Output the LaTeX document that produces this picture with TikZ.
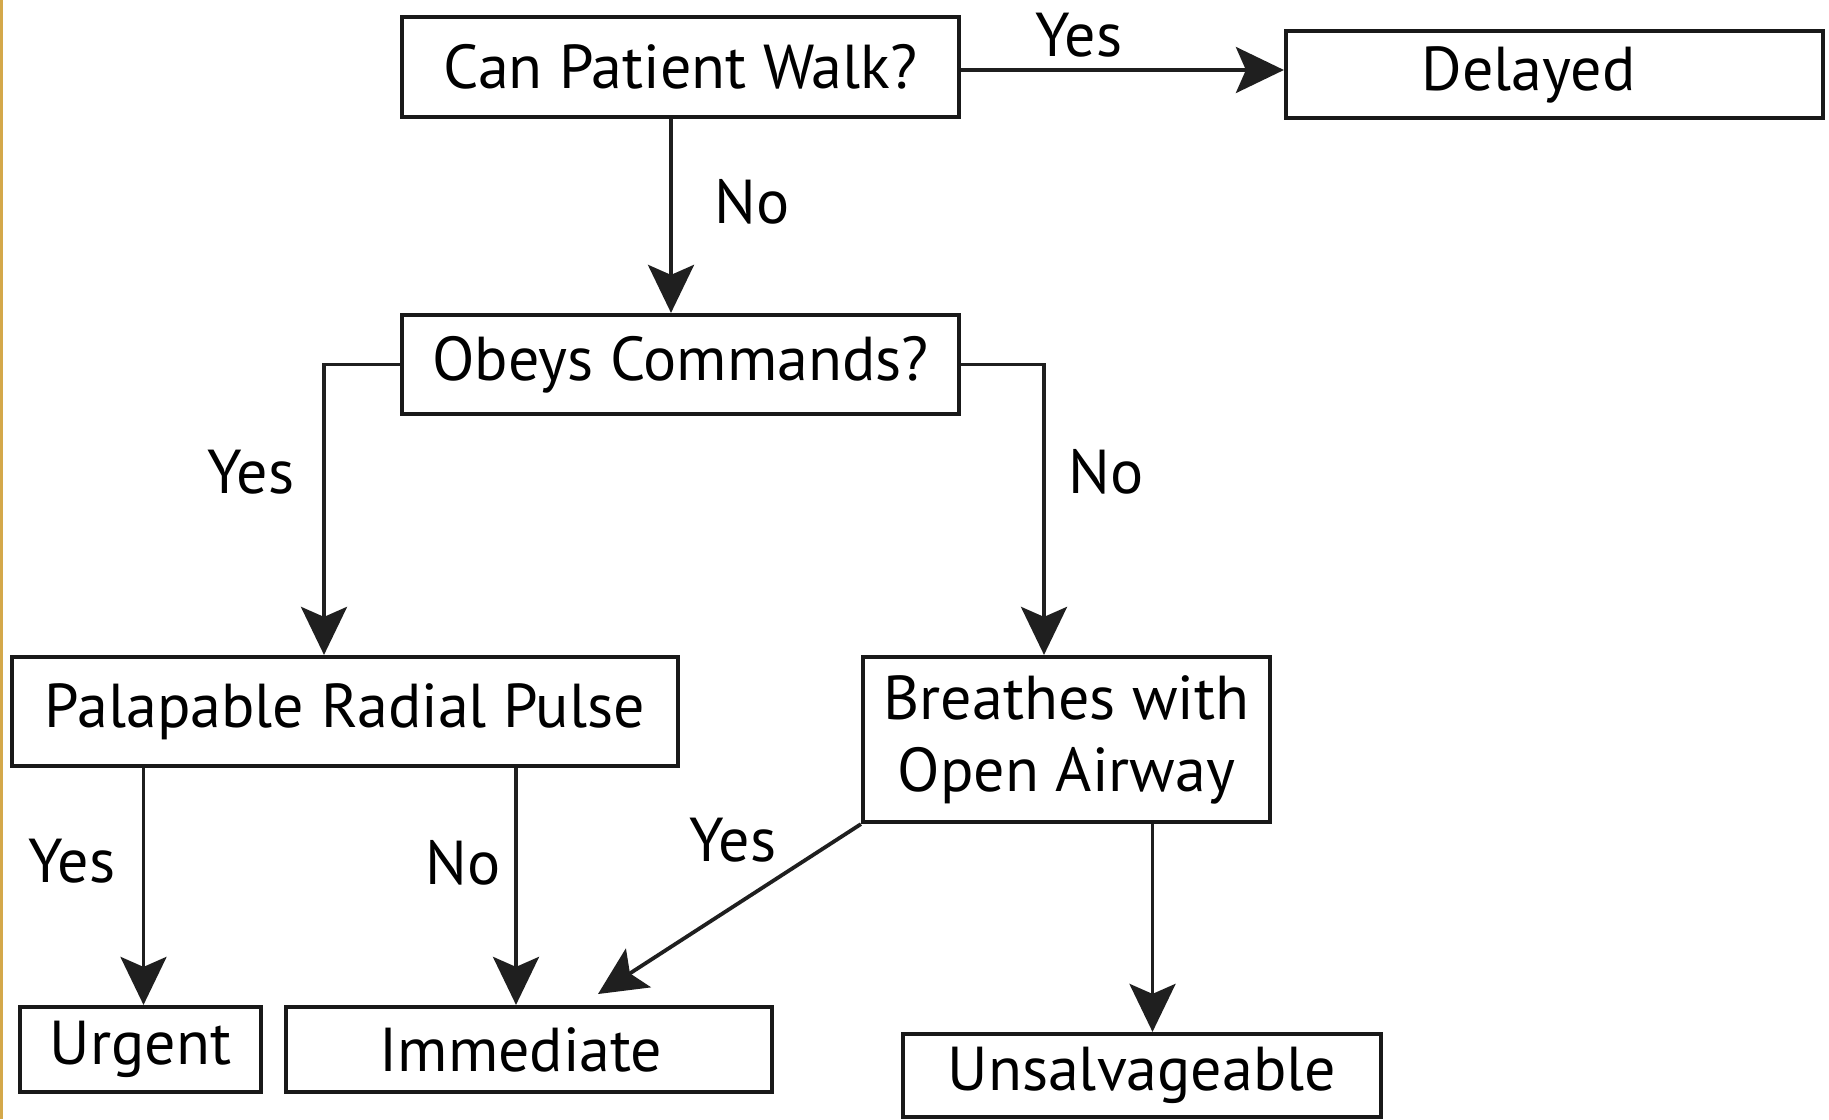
\documentclass[tikz,border=0pt]{standalone}
\usepackage{fontspec}
\setmainfont{PT Sans}
\usetikzlibrary{arrows.meta}
\begin{document}
\begin{tikzpicture}[x=0.5pt,y=-0.5pt,
  box/.style={draw=black!90,line width=2.1pt,rectangle,inner sep=0pt,align=center,
    font=\fontsize{31}{36}\selectfont},
  lbl/.style={font=\fontsize{31}{36}\selectfont,inner sep=0pt},
  conn/.style={draw=black!88,line width=1.9pt,-{Stealth[length=24pt,width=23pt,inset=5pt]}}]
\useasboundingbox (0,0) rectangle (1829,1119);
\fill[white] (0,0) rectangle (1829,1119);
\fill[color={rgb,255:red,212;green,168;blue,74}] (0,0) rectangle (2.5,1119);

\node[box,minimum width=278.5pt,minimum height=50pt] (walk) at (680.5,67) {Can Patient Walk?};
\node[box,minimum width=268.5pt,minimum height=43.5pt] (delayed) at (1554.5,74.5) {\hspace*{-26pt}\raisebox{-4pt}{Delayed}};
\node[box,minimum width=278.5pt,minimum height=49.5pt] (obeys) at (680.5,364.5) {Obeys Commands?};
\node[box,minimum width=333pt,minimum height=54.5pt] (pulse) at (345,711.5) {Palapable Radial Pulse};
\node[box,minimum width=203.5pt,minimum height=82.5pt] (breathes) at (1066.5,739.5) {Breathes with\\Open Airway};
\node[box,minimum width=120.5pt,minimum height=42.5pt] (urgent) at (140.5,1049.5) {Urgent};
\node[box,minimum width=243pt,minimum height=42.5pt] (immediate) at (529,1049.5) {\hspace*{-8pt}Immediate};
\node[box,minimum width=239pt,minimum height=41.5pt] (unsalv) at (1142,1075.5) {\raisebox{-3pt}{Unsalvageable}};

\coordinate (yd) at (959,70);
\draw[conn] (walk.east |- yd) -- (delayed.west |- yd);
\node[lbl] (lyes1) at (1079,35) {Yes};

\coordinate (wx) at (671,0);
\draw[conn] (wx |- walk.south) -- (wx |- obeys.north);
\node[lbl] (lno1) at (752,202) {No};

\coordinate (lc) at (324,364.5);
\draw[conn] (obeys.west) -- (lc) -- (lc |- pulse.north);
\node[lbl] (lyes2) at (251,472) {Yes};

\coordinate (rc) at (1044,364.5);
\draw[conn] (obeys.east) -- (rc) -- (rc |- breathes.north);
\node[lbl] (lno2) at (1106,472) {No};

\coordinate (ux) at (143.5,0);
\draw[conn] (ux |- pulse.south) -- (ux |- urgent.north);
\node[lbl] (lyes3) at (72,861) {Yes};

\coordinate (ix) at (516,0);
\draw[conn] (ix |- pulse.south) -- (ix |- immediate.north);
\node[lbl] (lno3) at (463,863) {No};

\coordinate (itip) at (598,994);
\draw[conn] (breathes.south west) -- (itip);
\node[lbl] (lyes4) at (733,840) {Yes};

\coordinate (sx) at (1152.5,0);
\draw[conn] (sx |- breathes.south) -- (sx |- unsalv.north);
\end{tikzpicture}
\end{document}
